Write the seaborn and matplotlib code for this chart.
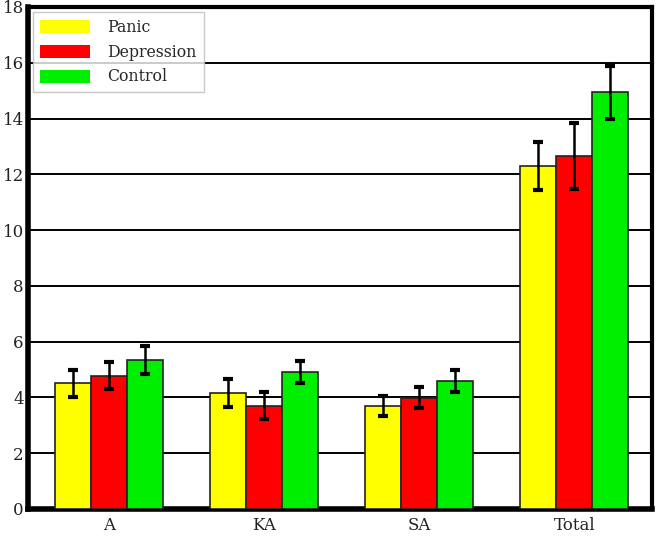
import matplotlib
matplotlib.use("Agg")
import matplotlib.pyplot as plt
import seaborn as sns
import pandas as pd
import numpy as np

categories = ["A", "KA", "SA", "Total"]
groups = ["Panic", "Depression", "Control"]
panic = [4.50, 4.16, 3.70, 12.29]
depression = [4.78, 3.70, 3.99, 12.65]
control = [5.35, 4.91, 4.59, 14.95]
panic_err = [0.48, 0.50, 0.35, 0.87]
depression_err = [0.48, 0.48, 0.38, 1.18]
control_err = [0.50, 0.38, 0.38, 0.95]
colors = ["#ffff00", "#ff0000", "#00ee00"]
yticks = [0, 2, 4, 6, 8, 10, 12, 14, 16, 18]

rows = []
for g, vals in zip(groups, [panic, depression, control]):
    for c, v in zip(categories, vals):
        rows.append({"cat": c, "group": g, "value": v})
df = pd.DataFrame(rows)
errs = {"Panic": panic_err, "Depression": depression_err, "Control": control_err}
vals_map = {"Panic": panic, "Depression": depression, "Control": control}

sns.set_theme(style="white")
plt.rcParams["font.family"] = ["DejaVu Serif"]

fig = plt.figure(figsize=(6.57, 5.36), dpi=100)
ax = fig.add_axes([0.0426, 0.0504, 0.9498, 0.9366])

sns.barplot(data=df, x="cat", y="value", hue="group", order=categories,
            hue_order=groups, palette=colors, width=0.695, saturation=1,
            edgecolor="#222222", linewidth=1.2, errorbar=None, ax=ax, zorder=3)

# error bars
containers = ax.containers
for gi, g in enumerate(groups):
    cont = containers[gi]
    xs = [p.get_x() + p.get_width() / 2 for p in cont.patches]
    ax.errorbar(xs, vals_map[g], yerr=errs[g], fmt="none", ecolor="black",
                elinewidth=1.8, capsize=3.5, capthick=3, zorder=4)

ax.set_ylim(0, 18)
ax.set_xlim(-0.52, 3.5)
ax.set_yticks(yticks)
ax.set_yticklabels([str(t) for t in yticks], fontsize=12, color="#222222")
ax.set_xticklabels(categories, fontsize=12, color="#222222")
ax.set_xlabel("")
ax.set_ylabel("")
ax.yaxis.grid(True, color="black", linewidth=1.4, zorder=0)
ax.set_axisbelow(True)
ax.tick_params(axis="y", length=0, pad=3)
ax.tick_params(axis="x", length=0, pad=6)

for side, lw in [("left", 4), ("bottom", 4), ("top", 3), ("right", 3)]:
    ax.spines[side].set_visible(True)
    ax.spines[side].set_color("black")
    ax.spines[side].set_linewidth(lw)

leg = ax.legend(loc="upper left", bbox_to_anchor=(0.0, 1.0), borderaxespad=0.3,
                fontsize=11.3, frameon=True, fancybox=False, edgecolor="#bbbbbb",
                handlelength=3.2, handleheight=0.9, handletextpad=1.1,
                borderpad=0.45, labelspacing=0.5, title=None)
leg.get_frame().set_linewidth(1.0)
for h in leg.legend_handles:
    h.set_edgecolor("none")

fig.savefig("out.png", dpi=100)
